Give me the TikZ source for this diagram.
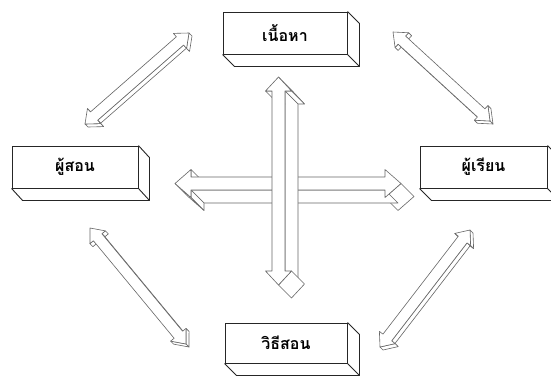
\documentclass[tikz,border=0pt]{standalone}
\usepackage{fontspec}
\newfontfamily\thaifont[Script=Thai]{Loma}
\usetikzlibrary{calc}
\tikzset{
  box/.style={draw=black!85, line width=0.9pt, fill=white, minimum height=42pt, inner sep=0pt,
    font=\thaifont\bfseries\fontsize{16}{18}\selectfont},
  boxface/.style={draw=black!85, line width=0.9pt, line join=round},
  arr/.style={draw=black!60, line width=0.6pt, fill=white, line join=round},
}
% #1 id, #2 from, #3 to, #4 head length, #5 head half width, #6 shaft half width, #7 dx, #8 dy, #9 style
\newcommand\tdarrow[9]{%
 \coordinate (#1-0) at (#2);
 \coordinate (#1-p) at ($(#2)!#4!(#3)$);
 \coordinate (#1-q) at ($(#3)!#4!(#2)$);
 \coordinate (#1-1) at ($(#1-p)!#5!90:(#3)$);
 \coordinate (#1-2) at ($(#1-p)!#6!90:(#3)$);
 \coordinate (#1-3) at ($(#1-q)!#6!-90:(#2)$);
 \coordinate (#1-4) at ($(#1-q)!#5!-90:(#2)$);
 \coordinate (#1-5) at (#3);
 \coordinate (#1-6) at ($(#1-q)!#5!90:(#2)$);
 \coordinate (#1-7) at ($(#1-q)!#6!90:(#2)$);
 \coordinate (#1-8) at ($(#1-p)!#6!-90:(#3)$);
 \coordinate (#1-9) at ($(#1-p)!#5!-90:(#3)$);
 \foreach \i/\j in {0/1,1/2,2/3,3/4,4/5,5/6,6/7,7/8,8/9,9/0}{%
   \pgfpointanchor{#1-\i}{center}\pgfgetlastxy{\ax}{\ay}%
   \pgfpointanchor{#1-\j}{center}\pgfgetlastxy{\bx}{\by}%
   \pgfmathsetmacro\crs{((\bx)-(\ax))*(-(#8))-((\by)-(\ay))*(#7)}%
   \ifdim\crs pt>0.01pt
     \filldraw[#9] (#1-\i) -- (#1-\j) -- ++(#7,#8) -- ($(#1-\i)+(#7,#8)$) -- cycle;
   \fi}
 \filldraw[#9] (#1-0) -- (#1-1) -- (#1-2) -- (#1-3) -- (#1-4) -- (#1-5) -- (#1-6) -- (#1-7) -- (#1-8) -- (#1-9) -- cycle;
}
\newcommand\boxdepth[3]{% node, dx, dy
 \draw[boxface] (#1.south west) -- ++(#2,#3) -- ($(#1.south east)+(#2,#3)$) -- ($(#1.north east)+(#2,#3)$) -- (#1.north east);
 \draw[boxface] (#1.south east) -- ++(#2,#3);
}
\begin{document}
\begin{tikzpicture}[x=1pt,y=-1pt]
\useasboundingbox (0,0) rectangle (551,376);
\fill[white] (0,0) rectangle (551,376);

% boxes
\node[box, minimum width=124pt] (content) at (285,33) {เนื้อหา};
\node[box, minimum width=126pt] (teacher) at (75,167) {ผู้สอน};
\node[box, minimum width=127pt] (learner) at (483.5,167) {ผู้เรียน};
\node[box, minimum width=122pt, minimum height=40pt] (method) at (286,343) {วิธีสอน};
\boxdepth{content}{12}{12}
\boxdepth{teacher}{11}{12}
\boxdepth{learner}{12}{12}
\boxdepth{method}{12}{12}

% arrow end points
\coordinate (ulA) at (85,124);
\coordinate (ulB) at (189,33);
\coordinate (urA) at (393,32);
\coordinate (urB) at (490,121);
\coordinate (llA) at (90,228);
\coordinate (llB) at (186,344);
\coordinate (lrA) at (470,230);
\coordinate (lrB) at (380,347);
\coordinate (hA) at (175,183.5);
\coordinate (hB) at (401,183.5);
\coordinate (vA) at (278.5,77);
\coordinate (vB) at (278.5,285);

% diagonal arrows
\tdarrow{ul}{ulA}{ulB}{12pt}{10pt}{5.5pt}{3}{3}{arr}
\tdarrow{ur}{urA}{urB}{12pt}{10pt}{5.5pt}{3}{3}{arr}
\tdarrow{ll}{llA}{llB}{12pt}{10pt}{5.5pt}{3}{3}{arr}
\tdarrow{lr}{lrA}{lrB}{12pt}{10pt}{5.5pt}{3}{3}{arr}

% central cross
\tdarrow{h}{hA}{hB}{16pt}{14pt}{6.5pt}{13}{13}{arr}
\tdarrow{v}{vA}{vB}{14pt}{13pt}{6.5pt}{13}{13}{arr}
\end{tikzpicture}
\end{document}
